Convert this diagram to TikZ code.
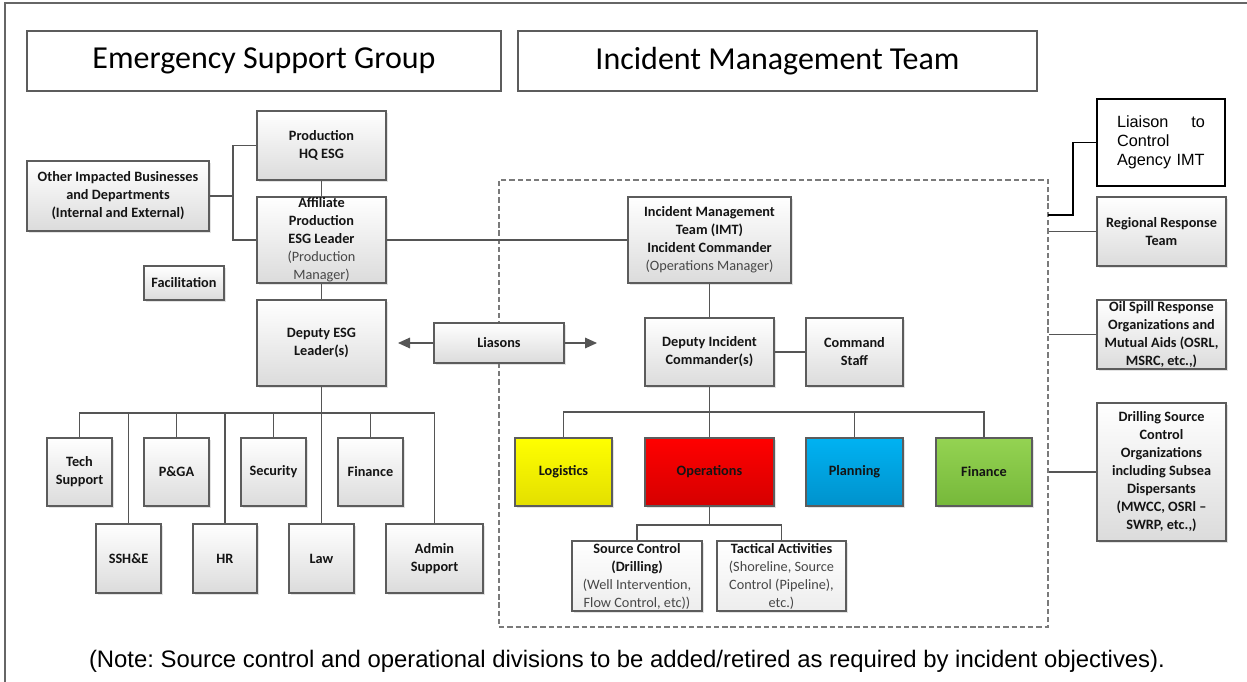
\documentclass[tikz,border=0pt]{standalone}
\usepackage{fontspec}
\setmainfont{Carlito}
\newfontfamily\arialf{Liberation Sans}
\usetikzlibrary{arrows.meta,shadows,calc}
\frenchspacing
\definecolor{bordc}{HTML}{5C5C5C}
\definecolor{linec}{HTML}{555555}
\definecolor{dashc}{HTML}{7A7A7A}
\definecolor{yelT}{HTML}{FFFF00}\definecolor{yelB}{HTML}{E3DF00}
\definecolor{redT}{HTML}{FF0000}\definecolor{redB}{HTML}{D50000}
\definecolor{bluT}{HTML}{00B2F2}\definecolor{bluB}{HTML}{0092CC}
\definecolor{grnT}{HTML}{94D352}\definecolor{grnB}{HTML}{76B83A}
\newcommand{\nb}[1]{{\mdseries\color{black!72}#1}}
\newcommand{\bx}[7]{%
  \node[#6, minimum width={(#4-#2)*0.75pt}, minimum height={(#5-#3)*0.75pt}]
    (#1) at ({(#2+#4)/2},{(#3+#5)/2}) {#7};}
\begin{document}
\begin{tikzpicture}[x=0.75pt,y=-0.75pt,
  box/.style={draw=bordc, line width=0.9pt, top color=white, bottom color=black!14,
    align=center, inner sep=0pt, text=black!92,
    font=\fontsize{10.7}{13.5}\selectfont\bfseries,
    drop shadow={shadow xshift=1.3pt, shadow yshift=-1.3pt, opacity=0.22}},
  lightbox/.style={box, bottom color=black!7},
  hdr/.style={draw=bordc, line width=1.1pt, fill=white, inner sep=0pt,
    font=\fontsize{24}{28}\selectfont},
  conn/.style={draw=linec, line width=0.9pt},
  arr/.style={conn, -{Triangle[length=9pt, width=8pt]}}
]
\useasboundingbox (0,0) rectangle (1247,682);
% outer frame
\draw[draw=black!60, line width=1.5pt] (5,682) -- (5,3) -- (1250,3);

% dashed IMT zone
\node[draw=dashc, dashed, dash pattern=on 4pt off 2.2pt, line width=0.8pt,
  minimum width={(1048-499)*0.75pt}, minimum height={(627-180)*0.75pt}, inner sep=0pt]
  (zone) at ({(499+1048)/2},{(180+627)/2}) {};

% headers
\bx{hesg}{27}{31}{501}{91}{hdr}{Emergency Support Group}
\bx{himt}{518}{31}{1037}{91}{hdr}{Incident Management Team}

% liaison to control agency
\node[draw=black, line width=1.5pt, fill=white, minimum width={(1225-1097)*0.75pt},
  minimum height={(186-99)*0.75pt}, inner sep=0pt] (lca) at ({(1097+1225)/2},{(99+186)/2}) {};
\node[align=left, text width=66pt, inner sep=0pt, font=\arialf\fontsize{12.2}{14.3}\selectfont]
  (lcat) at (lca.center) {Liaison\hfill to\\Control\\Agency IMT};

% ESG side
\bx{prod}{257}{111}{386}{180}{box}{Production\\HQ ESG}
\bx{other}{27}{161}{209}{231}{box}{Other Impacted Businesses\\and Departments\\(Internal and External)}
\bx{aff}{257}{197}{386}{283}{box}{Affiliate\\Production\\ESG Leader\\\nb{(Production}\\\nb{Manager)}}
\bx{fac}{144}{266}{224}{300}{box}{Facilitation}
\bx{desg}{257}{300}{386}{386}{box}{Deputy ESG\\Leader(s)}
\bx{lias}{434}{323}{564}{363}{box}{Liasons}

\bx{tech}{47}{438}{112}{506}{box}{Tech\\Support}
\bx{pga}{144}{438}{209}{506}{box}{P\&GA}
\bx{sec}{241}{438}{306}{506}{box}{Security}
\bx{efin}{338}{438}{403}{506}{box}{Finance}
\bx{ssh}{96}{524}{161}{593}{box}{SSH\&E}
\bx{hr}{193}{524}{257}{593}{box}{HR}
\bx{law}{289}{524}{354}{593}{box}{Law}
\bx{adm}{386}{524}{483}{593}{box}{Admin\\Support}

% IMT side
\bx{imt}{628}{197}{791}{283}{box}{Incident Management\\Team (IMT)\\Incident Commander\\\nb{(Operations Manager)}}
\bx{dic}{645}{318}{774}{386}{box}{Deputy Incident\\Commander(s)}
\bx{cs}{806}{318}{903}{386}{box}{Command\\Staff}
\bx{logi}{515}{438}{612}{506}{box, top color=yelT, bottom color=yelB}{Logistics}
\bx{ops}{645}{438}{774}{506}{box, top color=redT, bottom color=redB}{Operations}
\bx{plan}{806}{438}{903}{506}{box, top color=bluT, bottom color=bluB}{Planning}
\bx{ifin}{936}{438}{1032}{506}{box, top color=grnT, bottom color=grnB}{Finance}
\bx{src}{572}{541}{702}{611}{lightbox}{Source Control\\(Drilling)\\\nb{(Well Intervention,}\\\nb{Flow Control, etc))}}
\bx{tac}{717}{541}{846}{611}{lightbox}{Tactical Activities\\\nb{(Shoreline, Source}\\\nb{Control (Pipeline),}\\\nb{etc.)}}

% right side
\bx{rrt}{1097}{197}{1226}{266}{box}{Regional Response\\Team}
\bx{osr}{1097}{300}{1226}{369}{box}{Oil Spill Response\\Organizations and\\Mutual Aids (OSRL,\\MSRC, etc.,)}
\bx{dsc}{1097}{403}{1226}{541}{box}{Drilling Source\\Control\\Organizations\\including Subsea\\Dispersants\\(MWCC, OSRl –\\SWRP, etc.,)}

% connectors: ESG
\coordinate (jl) at (233,196);
\draw[conn] (other.east) -- (jl);
\draw[conn] (prod.west) -| (jl) |- (aff.west);
\draw[conn] (prod.south) -- (aff.north);
\draw[conn] (aff.south) -- (desg.north);
\draw[conn] (aff.east) -- (imt.west);
\coordinate (eb) at (321.5,413);
\draw[conn] (desg.south) -- (eb);
\foreach \c in {tech,ssh,pga,hr,sec,law,efin,adm} \draw[conn] (eb) -| (\c.north);

% liasons arrows
\coordinate (la) at (398,343);
\coordinate (ra) at (597,343);
\draw[arr] (lias.west) -- (la);
\draw[arr] (lias.east) -- (ra);

% connectors: IMT
\draw[conn] (imt.south) -- (dic.north);
\draw[conn] (dic.east) -- (cs.west);
\coordinate (ib) at (709.5,412);
\draw[conn] (dic.south) -- (ib);
\foreach \c in {logi,ops,plan,ifin} \draw[conn] (ib) -| (\c.north);
\coordinate (ob) at (709.5,525);
\draw[conn] (ops.south) -- (ob);
\foreach \c in {src,tac} \draw[conn] (ob) -| (\c.north);

% right connectors
\coordinate (lz) at (1048,215);
\draw[line width=0.8pt, draw=black] (lz) -- ++(25,0) |- (lca.west);
\draw[conn] (rrt.west) -- (rrt.west -| zone.east);
\draw[conn] (osr.west) -- (osr.west -| zone.east);
\draw[conn] (dsc.west) -- (dsc.west -| zone.east);

% note
\node[font=\arialf\fontsize{17.9}{21}\selectfont, inner sep=0pt] (note) at (627,661)
  {(Note: Source control and operational divisions to be added/retired as required by incident objectives).};
\end{tikzpicture}
\end{document}
